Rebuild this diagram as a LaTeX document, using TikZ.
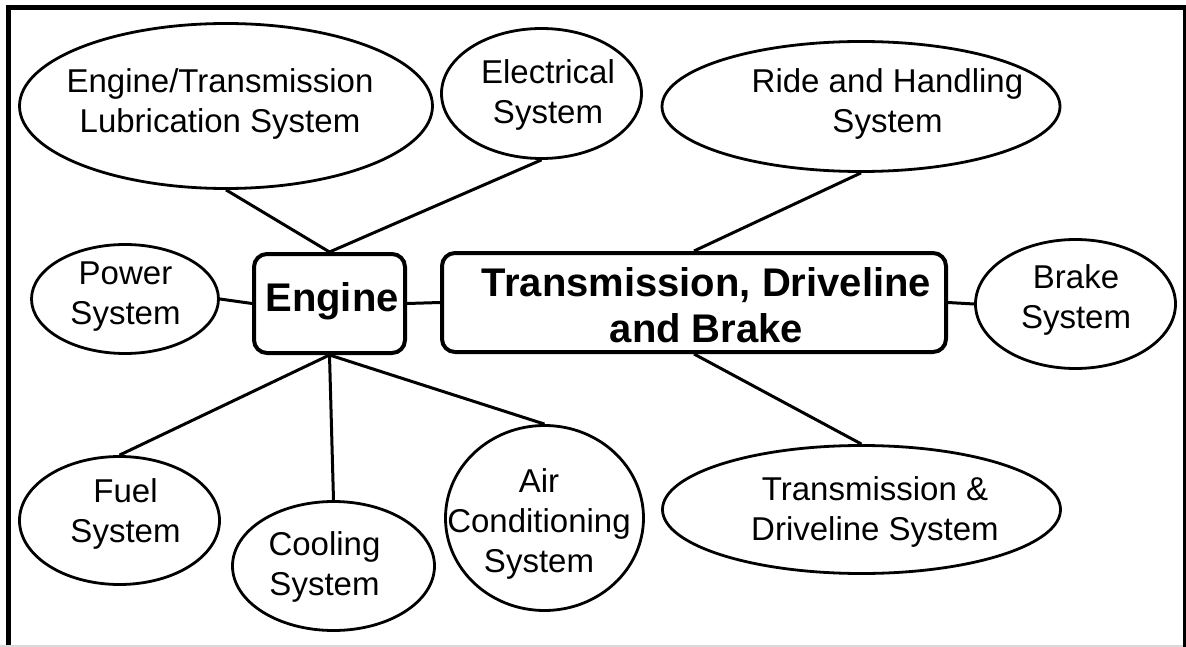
\documentclass[tikz,border=0pt]{standalone}
\usepackage{fontspec}
\setmainfont{Liberation Sans}
\usetikzlibrary{shapes.geometric}
\begin{document}
\begin{tikzpicture}[x=1pt,y=-1pt,
  bubble/.style={ellipse, draw, line width=2.8pt, inner sep=0pt},
  hub/.style={draw, line width=4pt, rounded corners=13pt, inner sep=0pt},
  caption/.style={align=center, inner sep=0pt, font=\fontsize{33}{40}\selectfont},
  hubtext/.style={align=center, inner sep=0pt, font=\fontsize{40}{46}\selectfont\bfseries},
  link/.style={line width=3pt}]
\useasboundingbox (0,0) rectangle (1186,647);

% outer frame (open at the bottom): heavy left and top, lighter right side
\draw[line width=5pt] (8.5,647) coordinate (frameBL) -- (8.5,8) -- (1186,8) coordinate (frameTR);
\draw[line width=2.6pt] (1184.5,6) coordinate (frameRT) -- (1184.5,647) coordinate (frameBR);
\draw[black!15, line width=1.5pt] (0,645.8) coordinate (edgeL) -- (1183,645.8) coordinate (edgeR);

% central blocks
\node[hub, minimum width=151pt, minimum height=99pt] (engine) at (329.5,303.5) {};
\node[hubtext] (engineT) at (332,301.7) {Engine};
\node[hub, minimum width=504pt, minimum height=99pt] (trans) at (694,302.5) {};
\node[hubtext] (transT) at (706.5,305.5) {Transmission, Driveline\\and Brake};

% subsystems
\node[bubble, minimum width=413pt, minimum height=165pt] (lub) at (226,106) {};
\node[caption] (lubT) at (220,103.5) {Engine/Transmission\\Lubrication System};

\node[bubble, minimum width=200pt, minimum height=130pt] (elec) at (541.5,93.5) {};
\node[caption] (elecT) at (548,94.5) {Electrical\\System};

\node[bubble, minimum width=398pt, minimum height=130pt] (ride) at (861,106.5) {};
\node[caption] (rideT) at (887.5,104) {Ride and Handling\\System};

\node[bubble, minimum width=187pt, minimum height=109pt] (power) at (125,299) {};
\node[caption] (powerT) at (125.5,296.5) {Power\\System};

\node[bubble, minimum width=200pt, minimum height=129pt] (brake) at (1075.5,304) {};
\node[caption] (brakeT) at (1076,300) {Brake\\System};

\node[bubble, minimum width=398pt, minimum height=128pt] (drive) at (861.5,509.5) {};
\node[caption] (driveT) at (875,512) {Transmission \&\\Driveline System};

\node[bubble, minimum width=200pt, minimum height=128pt] (fuel) at (119.5,520.5) {};
\node[caption] (fuelT) at (125.5,513.5) {Fuel\\System};

\node[bubble, minimum width=202pt, minimum height=129pt] (cool) at (333.5,566) {};
\node[caption] (coolT) at (324.5,566.5) {Cooling\\System};

\node[bubble, minimum width=198pt, minimum height=185pt] (air) at (544.5,518) {};
\node[caption] (airT) at (539,523.5) {Air\\Conditioning\\System};

% connectors
\draw[link] (engine.north) -- (lub.south);
\draw[link] (engine.north) -- (elec.south);
\draw[link] (power.east) -- (engine.west);
\draw[link] (engine.east) -- (trans.west);
\draw[link] (trans.east) -- (brake.west);
\draw[link] (trans.north) -- (ride.south);
\draw[link] (trans.south) -- (drive.north);
\draw[link] (engine.south) -- (fuel.north);
\draw[link] (engine.south) -- (cool.north);
\draw[link] (engine.south) -- (air.north);
\end{tikzpicture}
\end{document}
